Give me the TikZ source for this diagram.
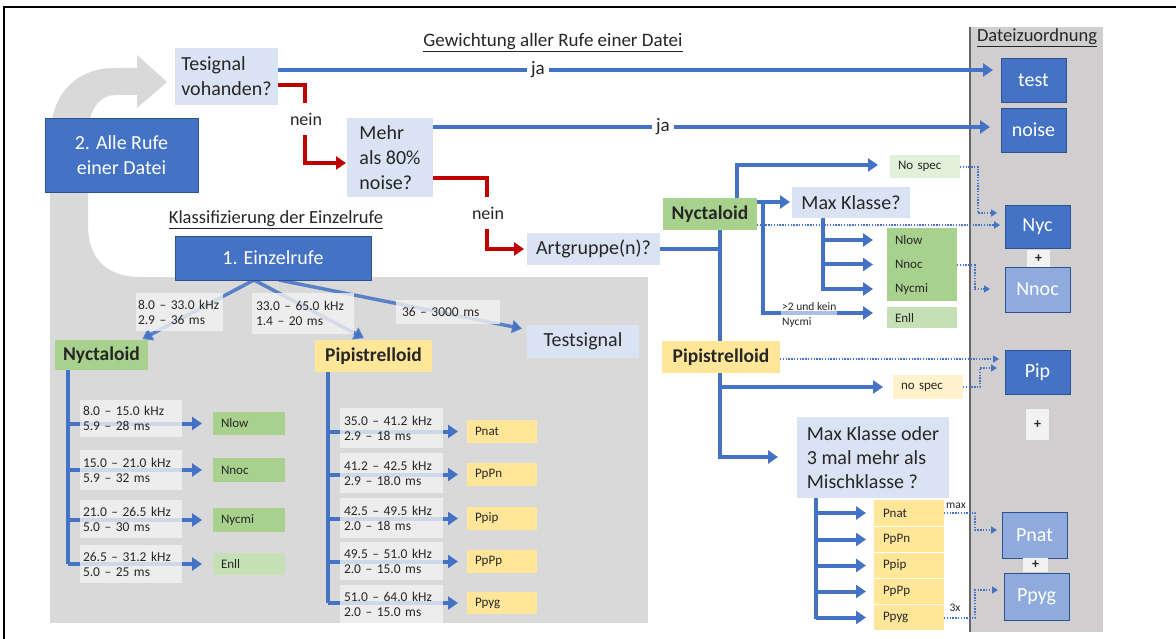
\documentclass[tikz,border=0pt]{standalone}
\usepackage{fontspec}
\setmainfont{Carlito}
\usetikzlibrary{arrows.meta,calc}
\definecolor{cblue}{HTML}{4472C4}
\definecolor{clblue}{HTML}{DAE3F3}
\definecolor{cmblue}{HTML}{8FAADC}
\definecolor{cdblue}{HTML}{2F528F}
\definecolor{cgreen}{HTML}{A9D18E}
\definecolor{clgreen}{HTML}{C5E0B4}
\definecolor{cvlgreen}{HTML}{E2F0D9}
\definecolor{cyellow}{HTML}{FFE699}
\definecolor{clyellow}{HTML}{FFF2CC}
\definecolor{cgray}{HTML}{D9D9D9}
\definecolor{ccol}{HTML}{D0CECE}
\definecolor{clab}{HTML}{F2F2F2}
\definecolor{cred}{HTML}{C00000}
\definecolor{ctext}{HTML}{262626}
\pgfdeclarelayer{back}
\pgfdeclarelayer{mid}
\pgfsetlayers{back,mid,main}
\begin{document}
\begin{tikzpicture}[x=1pt,y=-1pt,
  every node/.style={text=ctext},
  bx/.style={anchor=north west, inner sep=0pt, outer sep=0pt},
  wh/.style 2 args={minimum width=#1pt, minimum height=#2pt},
  lt/.style={align=left, text width=#1pt},
  big/.style={font=\fontsize{20}{25}\selectfont},
  qbox/.style={bx, big, fill=clblue},
  bbox/.style={bx, fill=cblue, draw=cdblue, line width=0.8pt, text=white, font=\fontsize{20}{25}\selectfont, align=center},
  mbox/.style={bbox, fill=cmblue},
  pbox/.style={bx, fill=clab, font=\bfseries\fontsize{14}{14}\selectfont},
  grp/.style={bx, font=\bfseries\fontsize{19.5}{23}\selectfont},
  sm/.style={bx, font=\fontsize{13}{15}\selectfont},
  lab/.style={bx, font=\fontsize{13.5}{15}\selectfont, fill=clab, fill opacity=0.8, text opacity=1},
  bline/.style={draw=cblue, line width=4pt},
  arr/.style={bline, -{Triangle[width=13pt,length=10pt]}},
  jarr/.style={draw=cblue, line width=3.5pt, -{Triangle[width=13pt,length=10pt]}},
  darr/.style={draw=cblue, line width=3.5pt, draw opacity=0.85, -{Triangle[width=13pt,length=10pt]}},
  dotarr/.style={draw=cblue, line width=2pt, dash pattern=on 1.4pt off 1.4pt, -{Triangle[width=7pt,length=6pt]}},
  redarr/.style={draw=cred, line width=4pt, -{Triangle[width=13pt,length=10pt]}},
  jalab/.style={fill=white, inner xsep=4pt, inner ysep=1pt, font=\fontsize{19}{23}\selectfont},
  neinlab/.style={fill=white, inner xsep=2pt, inner ysep=10pt, font=\fontsize{18}{22}\selectfont},
  ttl/.style={font=\fontsize{19}{23}\selectfont}
]
\useasboundingbox (0,0) rectangle (1176,639);

% ---------- backgrounds ----------
\begin{pgfonlayer}{back}
\fill[white] (0,0) rectangle (1176,639);
\fill[cgray] (50,277) rectangle (648,623);
\fill[cgray] (137,68) -- (115,68) .. controls (75,68) and (50,95) .. (50,140) -- (50,300) -- (140,300) -- (140,277) .. controls (110,277) and (88,262) .. (88,225) -- (88,135) .. controls (88,110) and (100,95) .. (115,95) -- (137,95) -- cycle;
\fill[cgray] (137,55) -- (167,82) -- (137,108) -- cycle;
\fill[ccol] (970,27) rectangle (1103,632);
\draw[line width=1.2pt, color=black!60] (970,27) -- (970,632);
\draw[line width=2pt, black] (4,639) -- (4,7) -- (1176,7);
\end{pgfonlayer}

% ---------- titles ----------
\node[ttl] (t1) at (553,43) {\underline{Gewichtung aller Rufe einer Datei}};
\node[ttl, font=\fontsize{18.5}{22}\selectfont] (t2) at (276,220) {\underline{Klassifizierung der Einzelrufe}};
\node[ttl, font=\fontsize{18.5}{22}\selectfont] (t3) at (1037,38) {\underline{Dateizuordnung}};

% ---------- question boxes ----------
\node[qbox, wh={103}{57}, align=left] (tes) at (175,48) {Tesignal\\vohanden?};
\node[qbox, wh={86}{79}, align=left] (mehr) at (347,118) {Mehr\\als 80\%\\noise?};
\node[qbox, wh={133}{32}] (art) at (527,233) {Artgruppe(n)?};
\node[qbox, wh={118}{31}] (maxk) at (792,187) {Max Klasse?};
\node[qbox, wh={112}{33}] (testsig) at (527,325) {Testsignal};
\node[qbox, wh={152}{81}, align=left, font=\fontsize{20}{24}\selectfont] (maxk2) at (797,417) {Max Klasse oder\\3 mal mehr als\\Mischklasse ?};

% ---------- blue boxes ----------
\node[bbox, wh={153}{74}] (alle) at (45,118) {2. Alle Rufe\\einer Datei};
\node[bbox, wh={196}{44}] (einzel) at (175,236) {1. Einzelrufe};
\node[bbox, wh={65}{44}] (test) at (1001,58) {test};
\node[bbox, wh={65}{44}] (noise) at (1001,108) {noise};
\node[bbox, wh={65}{43}] (nyc) at (1005,205) {Nyc};
\node[mbox, wh={65}{45}] (nnoc) at (1005,267) {Nnoc};
\node[bbox, wh={65}{44}] (pip) at (1005,350) {Pip};
\node[mbox, wh={65}{46}] (pnat) at (1002,512) {Pnat};
\node[mbox, wh={65}{47}] (ppyg) at (1004,573) {Ppyg};
\node[pbox, wh={23}{17}] (plus1) at (1027,250) {+};
\node[pbox, wh={23}{31}] (plus2) at (1026,409) {+};
\node[pbox, wh={25}{14}] (plus3) at (1023,558) {+};

% ---------- right group boxes ----------
\node[grp, fill=cgreen, wh={94}{32}] (nyctR) at (663,198) {Nyctaloid};
\node[grp, fill=cyellow, wh={118}{32}] (pipR) at (662,341) {Pipistrelloid};
\node[sm, fill=cvlgreen, wh={70}{23}, lt=54, inner xsep=8pt] (nospecN) at (890,155) {No spec};
\node[sm, fill=cgreen, wh={70}{24}, lt=54, inner xsep=8pt] (nlowR) at (887,228) {Nlow};
\node[sm, fill=cgreen, wh={70}{25}, lt=54, inner xsep=8pt] (nnocR) at (887,252) {Nnoc};
\node[sm, fill=cgreen, wh={70}{24}, lt=54, inner xsep=8pt] (nycmiR) at (887,277) {Nycmi};
\node[sm, fill=clgreen, wh={70}{21}, lt=54, inner xsep=8pt] (enllR) at (887,307) {Enll};
\node[sm, fill=clyellow, wh={70}{24}, lt=54, inner xsep=8pt] (nospecP) at (893,375) {no spec};
\node[sm, fill=cyellow, wh={70}{26}, lt=52, inner xsep=9pt] (pnatR) at (874,500) {Pnat};
\node[sm, fill=cyellow, wh={70}{25}, lt=52, inner xsep=9pt] (ppnR) at (874,527) {PpPn};
\node[sm, fill=cyellow, wh={70}{25}, lt=52, inner xsep=9pt] (ppipR) at (874,553) {Ppip};
\node[sm, fill=cyellow, wh={70}{25}, lt=52, inner xsep=9pt] (pppR) at (874,579) {PpPp};
\node[sm, fill=cyellow, wh={70}{25}, lt=52, inner xsep=9pt] (ppygR) at (874,605) {Ppyg};

\node[font=\fontsize{11.5}{15}\selectfont, align=left, anchor=west, fill=white, fill opacity=0.55, text opacity=1, inner sep=1pt] (cond) at (781,315) {>2 und kein\\Nycmi};
\node[font=\fontsize{11.5}{13}\selectfont, inner sep=1pt] (maxl) at (956,506) {max};
\node[font=\fontsize{11.5}{13}\selectfont, inner sep=1pt] (threex) at (955,608) {3x};

% ---------- left group boxes ----------
\node[grp, fill=cgreen, wh={93}{30}] (nyctL) at (55,340) {Nyctaloid};
\node[grp, fill=cyellow, wh={117}{32}] (pipL) at (315,340) {Pipistrelloid};
\node[sm, fill=cgreen, wh={72}{23}, lt=56, inner xsep=8pt] (nlow) at (213,412) {Nlow};
\node[sm, fill=cgreen, wh={72}{24}, lt=56, inner xsep=8pt] (nnoc2) at (213,458) {Nnoc};
\node[sm, fill=cgreen, wh={72}{24}, lt=56, inner xsep=8pt] (nycmi) at (213,508) {Nycmi};
\node[sm, fill=clgreen, wh={72}{22}, lt=56, inner xsep=8pt] (enll) at (213,553) {Enll};
\node[sm, fill=cyellow, wh={70}{23}, lt=54, inner xsep=8pt] (pnatL) at (467,420) {Pnat};
\node[sm, fill=cyellow, wh={70}{23}, lt=54, inner xsep=8pt] (ppnL) at (467,463) {PpPn};
\node[sm, fill=cyellow, wh={70}{23}, lt=54, inner xsep=8pt] (ppipL) at (467,507) {Ppip};
\node[sm, fill=cyellow, wh={70}{23}, lt=54, inner xsep=8pt] (pppL) at (467,550) {PpPp};
\node[sm, fill=cyellow, wh={70}{22}, lt=54, inner xsep=8pt] (ppygL) at (467,592) {Ppyg};

% ---------- range labels ----------
\node[lab, wh={87}{38}, lt=83, inner xsep=2pt] (lab1) at (136,293) {8.0 – 33.0 kHz\\2.9 – 36 ms};
\node[lab, wh={102}{41}, lt=94, inner xsep=4pt] (lab2) at (252,293) {33.0 – 65.0 kHz\\1.4 – 20 ms};
\node[lab, wh={104}{24}, lt=92, inner xsep=6pt] (lab3) at (396,300) {36 – 3000 ms};
\node[lab, wh={102}{37}, lt=96, inner xsep=3pt] (ln1) at (80,400) {8.0 – 15.0 kHz\\5.9 – 28 ms};
\node[lab, wh={102}{40}, lt=96, inner xsep=3pt] (ln2) at (80,450) {15.0 – 21.0 kHz\\5.9 – 32 ms};
\node[lab, wh={102}{38}, lt=96, inner xsep=3pt] (ln3) at (80,500) {21.0 – 26.5 kHz\\5.0 – 30 ms};
\node[lab, wh={102}{38}, lt=96, inner xsep=3pt] (ln4) at (80,545) {26.5 – 31.2 kHz\\5.0 – 25 ms};
\node[lab, wh={103}{40}, lt=95, inner xsep=4pt] (lp1) at (340,408) {35.0 – 41.2 kHz\\2.9 – 18 ms};
\node[lab, wh={103}{40}, lt=95, inner xsep=4pt] (lp2) at (340,453) {41.2 – 42.5 kHz\\2.9 – 18.0 ms};
\node[lab, wh={103}{40}, lt=95, inner xsep=4pt] (lp3) at (340,498) {42.5 – 49.5 kHz\\2.0 – 18 ms};
\node[lab, wh={103}{38}, lt=95, inner xsep=4pt] (lp4) at (340,542) {49.5 – 51.0 kHz\\2.0 – 15.0 ms};
\node[lab, wh={103}{38}, lt=95, inner xsep=4pt] (lp5) at (340,585) {51.0 – 64.0 kHz\\2.0 – 15.0 ms};

% ---------- flow labels ----------
\node[jalab] (ja1) at (538,70) {ja};
\node[jalab] (ja2) at (663,127) {ja};
\node[neinlab] (nein1) at (306,119) {nein};
\node[neinlab] (nein2) at (488,213) {nein};

% ---------- connectors ----------
\begin{pgfonlayer}{mid}
\draw[jarr, shorten >=8pt] (tes.east |- 0,70) -- (test.west |- 0,70);
\draw[jarr, shorten >=11pt] (mehr.east |- 0,127) -- (noise.west |- 0,127);
\draw[redarr, line join=miter, shorten >=1pt] (tes.east |- 0,85) -- (305,85) -- (305,163) -- (mehr.west |- 0,163);
\draw[redarr, line join=miter, shorten >=3pt] (mehr.east |- 0,178) -- (487,178) -- (487,249) -- (art.west |- 0,249);

% species group tree
\draw[bline] (art.east |- 0,249) -- (720,249);
\draw[bline] (nyctR.south -| 720,0) -- (pipR.north -| 720,0);
\draw[arr, line join=miter, shorten >=19pt] (pipR.south -| 720,0) -- (720,457) -- (maxk2.west |- 0,457);
\draw[arr, shorten >=10pt] (720,387) -- (nospecP.west |- 0,387);
\draw[arr, line join=miter, shorten >=12pt] (nyctR.north -| 737,0) -- (737,165) -- (nospecN.west |- 0,165);
\draw[arr, shorten >=2pt] (nyctR.east |- 0,202) -- (maxk.west |- 0,202);
\draw[arr, line join=miter, shorten >=14pt] (763,202) -- (763,313) -- (enllR.west |- 0,313);
\draw[arr, line join=miter, shorten >=14pt] (maxk.south -| 823,0) -- (823,289) -- (nycmiR.west |- 0,289);
\draw[arr, shorten >=14pt] (823,240) -- (nlowR.west |- 0,240);
\draw[arr, shorten >=14pt] (823,264.5) -- (nnocR.west |- 0,264.5);
\draw[bline] (maxk2.south -| 816,0) -- (816,619);
\draw[arr, shorten >=8pt] (pnatR.west -| 816,0) -- (pnatR.west);
\draw[arr, shorten >=8pt] (ppnR.west -| 816,0) -- (ppnR.west);
\draw[arr, shorten >=8pt] (ppipR.west -| 816,0) -- (ppipR.west);
\draw[arr, shorten >=8pt] (pppR.west -| 816,0) -- (pppR.west);
\draw[arr, shorten >=8pt] (ppygR.west -| 816,0) -- (ppygR.west);

% dotted assignments
\draw[dotarr, shorten >=5pt] (nyctR.east |- 0,225) -- (nyc.west |- 0,225);
\draw[dotarr, shorten >=8pt] (nospecN.east |- 0,167) -- (978,167) -- (978,213) -- (nyc.west |- 0,213);
\draw[dotarr, shorten >=15pt] (nnocR.east |- 0,265) -- (975,265) -- (975,289) -- (nnoc.west |- 0,289);
\draw[dotarr, shorten >=6pt] (pipR.east |- 0,359) -- (pip.west |- 0,359);
\draw[dotarr, shorten >=8pt] (nospecP.east |- 0,387) -- (980,387) -- (980,368) -- (pip.west |- 0,368);
\draw[dotarr, shorten >=5pt] (pnatR.east |- 0,513) -- (975,513) -- (975,530) -- (pnat.west |- 0,530);
\draw[dotarr, shorten >=6pt] (ppygR.east |- 0,618) -- (975,618) -- (975,590) -- (ppyg.west |- 0,590);

% single call classification
\draw[darr, shorten >=2pt] ([xshift=-19pt]einzel.south) -- ([xshift=39pt]nyctL.north);
\draw[darr, shorten >=4pt] ([xshift=-19pt]einzel.south) -- ([xshift=-6pt]pipL.north);
\draw[darr, shorten >=2pt] ([xshift=6pt]einzel.south) -- ($(testsig.north west)+(-3,4)$);
\draw[bline] (nyctL.south -| 68,0) -- (68,564);
\draw[arr, shorten >=11pt] (nlow.west -| 68,0) -- (nlow.west);
\draw[arr, shorten >=11pt] (nnoc2.west -| 68,0) -- (nnoc2.west);
\draw[arr, shorten >=11pt] (nycmi.west -| 68,0) -- (nycmi.west);
\draw[arr, shorten >=11pt] (enll.west -| 68,0) -- (enll.west);
\draw[bline] (pipL.south -| 328,0) -- (328,603);
\draw[arr, shorten >=9pt] (pnatL.west -| 328,0) -- (pnatL.west);
\draw[arr, shorten >=9pt] (ppnL.west -| 328,0) -- (ppnL.west);
\draw[arr, shorten >=9pt] (ppipL.west -| 328,0) -- (ppipL.west);
\draw[arr, shorten >=9pt] (pppL.west -| 328,0) -- (pppL.west);
\draw[arr, shorten >=9pt] (ppygL.west -| 328,0) -- (ppygL.west);
\end{pgfonlayer}
\end{tikzpicture}
\end{document}
